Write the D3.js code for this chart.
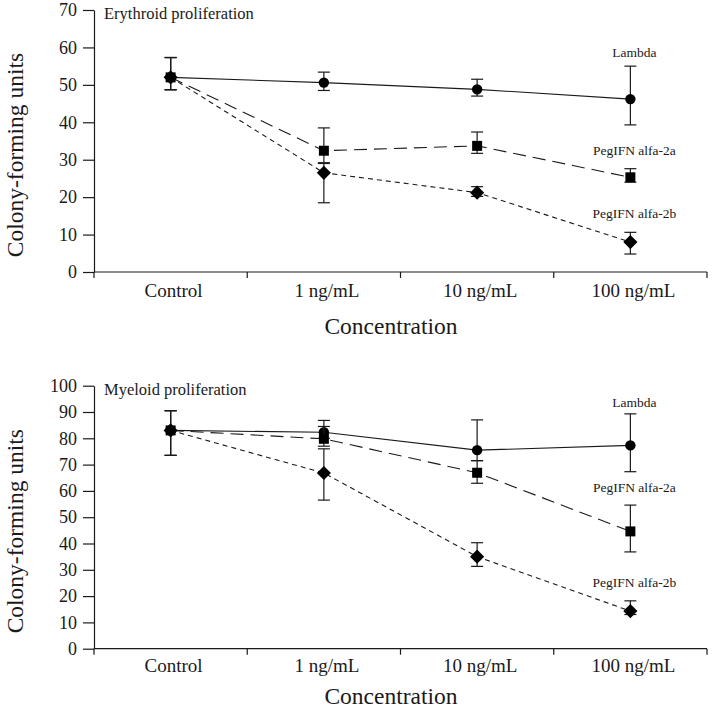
<!DOCTYPE html>
<html>
<head>
<meta charset="utf-8">
<script src="https://cdn.jsdelivr.net/npm/d3@7"></script>
<style>
  body { margin: 0; background: #fff; }
  svg { font-family: "Liberation Serif", "Times New Roman", serif; }
</style>
</head>
<body>
<svg id="chart" width="714" height="717"></svg>
<script>
// categories along the x axis
const categories = ["Control", "1 ng/mL", "10 ng/mL", "100 ng/mL"]
const seriesNames = ["Lambda", "PegIFN alfa-2a", "PegIFN alfa-2b"]

// erythroid panel (mean, low, high)
const eryLambda = [52.0, 50.6, 48.8, 46.2]
const eryLambdaLo = [48.7, 48.5, 47.0, 39.3]
const eryLambdaHi = [57.3, 53.4, 51.5, 55.0]
const ery2a = [52.0, 32.4, 33.7, 25.3]
const ery2aLo = [48.7, 29.2, 31.7, 24.0]
const ery2aHi = [57.3, 38.5, 37.4, 27.6]
const ery2b = [52.0, 26.5, 21.2, 8.0]
const ery2bLo = [48.7, 18.5, 20.2, 4.8]
const ery2bHi = [57.3, 29.0, 22.8, 10.6]
const eryTicks = [0, 10, 20, 30, 40, 50, 60, 70]
const eryLabelValues = [57.4, 31.3, 14.4]

// myeloid panel
const myeLambda = [83.0, 82.3, 75.5, 77.3]
const myeLambdaLo = [73.5, 80.0, 71.5, 67.3]
const myeLambdaHi = [90.5, 86.8, 87.0, 89.3]
const mye2a = [83.0, 79.8, 66.9, 44.6]
const mye2aLo = [73.5, 77.0, 62.9, 36.8]
const mye2aHi = [90.5, 84.5, 71.5, 54.6]
const mye2b = [83.0, 66.8, 35.0, 14.3]
const mye2bLo = [73.5, 56.5, 31.3, 13.0]
const mye2bHi = [90.5, 76.0, 40.3, 18.2]
const myeTicks = [0, 10, 20, 30, 40, 50, 60, 70, 80, 90, 100]
const myeLabelValues = [91.9, 59.6, 23.5]

const svg = d3.select("#chart")
const ink = "#1a1a1a"
const dashes = [null, "13,7", "5,4"]
// circle, square, square turned 45 degrees (diamond)
const shapes = [d3.symbolCircle, d3.symbolSquare, d3.symbolSquare]
const shapeSizes = [85, 100, 100]
const shapeTurn = [0, 0, 45]

function drawPanel(opts) {
    const g = svg.append("g")

    /**
     * Scales
     */
    const xScale = d3.scaleBand()
        .domain(categories)
        .range([94, 707])
    const yScale = d3.scaleLinear()
        .domain([0, opts.ticks[opts.ticks.length - 1]])
        .range([opts.bottom, opts.top])

    /**
     * Y axis
     */
    const yAxis = d3.axisLeft(yScale)
        .tickValues(opts.ticks)
        .tickSize(11)
        .tickSizeOuter(0)
        .tickPadding(6)
    const gy = g.append("g")
        .attr("transform", "translate(94,0)")
        .call(yAxis)
    gy.selectAll("path, line").attr("stroke", ink).attr("stroke-width", 1.2)
    gy.selectAll("text")
        .attr("font-family", "Liberation Serif")
        .attr("font-size", 18)
        .attr("fill", ink)

    /**
     * X axis with ticks at the band boundaries
     */
    g.append("line")
        .attr("x1", xScale.range()[0]).attr("x2", xScale.range()[1])
        .attr("y1", opts.bottom).attr("y2", opts.bottom)
        .attr("stroke", ink).attr("stroke-width", 1.2)
    const bounds = categories.map(c => xScale(c)).concat([xScale.range()[1]])
    g.selectAll(".xtick")
        .data(bounds)
        .enter()
        .append("line")
        .attr("class", "xtick")
        .attr("x1", d => d).attr("x2", d => d)
        .attr("y1", opts.bottom).attr("y2", opts.bottom + 6)
        .attr("stroke", ink).attr("stroke-width", 1.2)
    g.selectAll(".xlabel")
        .data(categories)
        .enter()
        .append("text")
        .attr("class", "xlabel")
        .attr("x", d => xScale(d) + xScale.bandwidth() / 2 + 3)
        .attr("y", opts.bottom + opts.catOffset)
        .attr("text-anchor", "middle")
        .attr("font-size", 19)
        .attr("fill", ink)
        .text(d => d)

    /**
     * Axis titles
     */
    g.append("text")
        .attr("x", 391)
        .attr("y", opts.bottom + opts.titleOffset)
        .attr("text-anchor", "middle")
        .attr("font-size", 23.5)
        .attr("fill", ink)
        .text("Concentration")
    g.append("text")
        .attr("transform", "translate(23," + ((opts.top + opts.bottom) / 2 + 14) + ") rotate(-90)")
        .attr("text-anchor", "middle")
        .attr("font-size", 23.5)
        .attr("fill", ink)
        .text("Colony-forming units")
    g.append("text")
        .attr("x", 104)
        .attr("y", opts.top + 9)
        .attr("font-size", 16.5)
        .attr("fill", ink)
        .text(opts.title)

    /**
     * Lines, error bars and markers for each series
     */
    const line = d3.line()
        .x((d, i) => xScale(categories[i]) + xScale.bandwidth() / 2)
        .y(d => yScale(d))

    opts.series.forEach((s, k) => {
        const cx = i => xScale(categories[i]) + xScale.bandwidth() / 2
        g.append("path")
            .datum(s.values)
            .attr("d", line)
            .attr("fill", "none")
            .attr("stroke", ink)
            .attr("stroke-width", 1.1)
            .attr("stroke-dasharray", dashes[k])

        const bars = s.values.map((v, i) => ({ x: cx(i), lo: s.lo[i], hi: s.hi[i] }))
        const eb = g.selectAll(".eb" + k).data(bars).enter().append("g").attr("class", "eb" + k)
        eb.append("line")
            .attr("x1", d => d.x).attr("x2", d => d.x)
            .attr("y1", d => yScale(d.lo)).attr("y2", d => yScale(d.hi))
            .attr("stroke", ink).attr("stroke-width", 1.2)
        eb.append("line")
            .attr("x1", d => d.x - 6).attr("x2", d => d.x + 6)
            .attr("y1", d => yScale(d.lo)).attr("y2", d => yScale(d.lo))
            .attr("stroke", ink).attr("stroke-width", 1.2)
        eb.append("line")
            .attr("x1", d => d.x - 6).attr("x2", d => d.x + 6)
            .attr("y1", d => yScale(d.hi)).attr("y2", d => yScale(d.hi))
            .attr("stroke", ink).attr("stroke-width", 1.2)

        g.selectAll(".mk" + k)
            .data(s.values)
            .enter()
            .append("path")
            .attr("class", "mk" + k)
            .attr("d", d3.symbol().type(shapes[k]).size(shapeSizes[k]))
            .attr("transform", (d, i) => "translate(" + cx(i) + "," + yScale(d) + ") rotate(" + shapeTurn[k] + ")")
            .attr("fill", "#000")

        g.append("text")
            .attr("x", cx(3) + 4)
            .attr("y", yScale(opts.labelValues[k]))
            .attr("text-anchor", "middle")
            .attr("font-size", 13.5)
            .attr("fill", ink)
            .text(seriesNames[k])
    })
}

drawPanel({
    title: "Erythroid proliferation",
    top: 10,
    bottom: 272,
    catOffset: 25,
    titleOffset: 62,
    ticks: eryTicks,
    labelValues: eryLabelValues,
    series: [
        { values: eryLambda, lo: eryLambdaLo, hi: eryLambdaHi },
        { values: ery2a, lo: ery2aLo, hi: ery2aHi },
        { values: ery2b, lo: ery2bLo, hi: ery2bHi }
    ]
})

drawPanel({
    title: "Myeloid proliferation",
    top: 385.7,
    bottom: 648.7,
    catOffset: 23,
    titleOffset: 55,
    ticks: myeTicks,
    labelValues: myeLabelValues,
    series: [
        { values: myeLambda, lo: myeLambdaLo, hi: myeLambdaHi },
        { values: mye2a, lo: mye2aLo, hi: mye2aHi },
        { values: mye2b, lo: mye2bLo, hi: mye2bHi }
    ]
})
</script>
</body>
</html>
